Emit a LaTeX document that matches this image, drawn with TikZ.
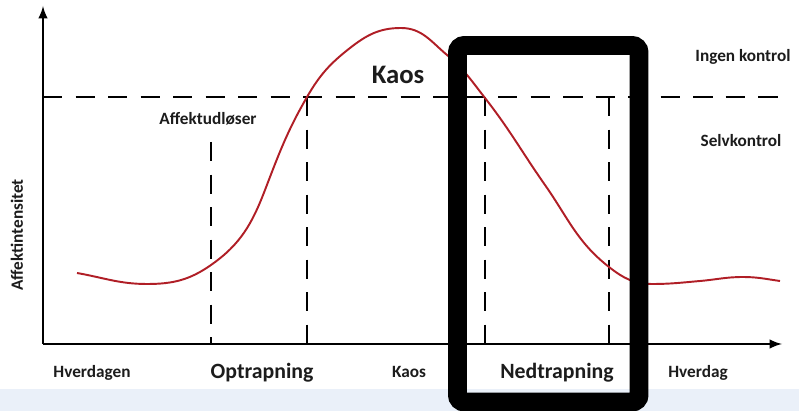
\documentclass[tikz,border=0pt]{standalone}
\usepackage{fontspec}
\setmainfont{Carlito}
\usepackage{tikz}
\definecolor{curvered}{RGB}{176,30,38}
\definecolor{bandblue}{RGB}{234,240,249}
\definecolor{textgray}{RGB}{28,28,28}

\begin{document}
\begin{tikzpicture}[x=0.2mm, y=0.2mm]
		\tikzstyle{every node}+=[inner sep=0pt, text=textgray]
		\tikzset{
			axis/.style={line width=1.4pt, -latex},
			limit/.style={line width=1.5pt, dash pattern=on 11pt off 7.5pt},
			curve/.style={curvered, line width=1.1pt},
			frame/.style={line width=10.8pt, rounded corners=4pt},
			small/.style={font=\bfseries\fontsize{9.8}{11}\selectfont, anchor=base},
			phase/.style={font=\bfseries\fontsize{12.4}{14}\selectfont, anchor=base}
		}
		\useasboundingbox (0,0) rectangle (799,-411);
		\fill [white] (0,0) rectangle (799,-411);
		\fill [bandblue] (0,-389) rectangle (799,-411);
		% axes
		\coordinate (o) at (43,-344);
		\coordinate (ytop) at (43,-6);
		\coordinate (xend) at (782,-344);
		\draw [axis] (o) -- (ytop);
		\draw [axis] (o) -- (xend);
		% limit between self control and no control
		\coordinate (lim0) at (43,-97);
		\coordinate (lim1) at (784,-97);
		\draw [limit] (lim0) -- (lim1);
		\coordinate (trig) at (211,-142);
		\coordinate (trigb) at (211,-344);
		\coordinate (up) at (307,-97);
		\coordinate (upb) at (307,-344);
		\coordinate (down) at (485,-97);
		\coordinate (downb) at (485,-344);
		\coordinate (calm) at (609,-97);
		\coordinate (calmb) at (609,-344);
		\draw [limit] (trig) -- (trigb);
		\draw [limit] (up) -- (upb);
		\draw [limit] (down) -- (downb);
		\draw [limit] (calm) -- (calmb);
		% affect curve
		\draw [curve] (77,-273) to[out=-10,in=180] (147,-284)
			to[out=0,in=215] (211,-265) to[out=35,in=249] (265,-190)
			to[out=69,in=240] (307,-97) to[out=60,in=218] (350,-48)
			to[out=38,in=180] (401,-28) to[out=0,in=140] (447,-55)
			to[out=-40,in=128] (485,-98) to[out=-52,in=125] (545,-185)
			to[out=-55,in=142] (609,-267) to[out=-38,in=180] (652,-284)
			to[out=0,in=185] (700,-281) to[out=5,in=180] (743,-277)
			to[out=0,in=172] (780,-281);
		% labels
		\node [rotate=90, font=\bfseries\fontsize{9.8}{11}\selectfont] (yl) at (17,-235) {Affektintensitet};
		\node [small] (trigl) at (208,-125) {Affektudløser};
		\node [font=\bfseries\fontsize{15.2}{17}\selectfont, anchor=base] (kaost) at (398,-84) {Kaos};
		\node [small] (ingen) at (743,-62) {Ingen kontrol};
		\node [small] (selv) at (741,-147) {Selvkontrol};
		\node [small] (hv1) at (92,-378) {Hverdagen};
		\node [phase] (opt) at (262,-379) {Optrapning};
		\node [small] (kaosb) at (409,-378) {Kaos};
		\node [phase] (ned) at (557,-379) {Nedtrapning};
		\node [small] (hv2) at (698,-378) {Hverdag};
		% highlight frame
		\draw [frame] (457.5,-45.5) rectangle (639,-402);
	\end{tikzpicture}
\end{document}
